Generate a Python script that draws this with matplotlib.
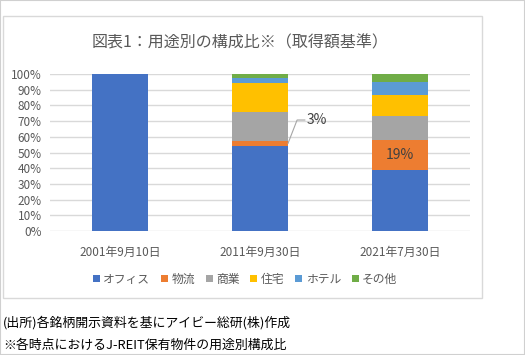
import matplotlib
matplotlib.use("Agg")
import matplotlib.pyplot as plt
from matplotlib.patches import Rectangle, Patch
import numpy as np

plt.rcParams['font.family'] = ['Noto Sans CJK JP', 'DejaVu Sans']

# データ（％）
dates = ['2001年9月10日', '2011年9月30日', '2021年7月30日']
categories = ['オフィス', '物流', '商業', '住宅', 'ホテル', 'その他']
office = [100.0, 54.3, 39.0]
logistics = [0.0, 3.0, 19.0]
retail = [0.0, 18.5, 15.2]
residential = [0.0, 18.5, 13.4]
hotel = [0.0, 3.2, 8.5]
other = [0.0, 2.5, 4.9]
colors = ['#4472C4', '#ED7D31', '#A5A5A5', '#FFC000', '#5B9BD5', '#70AD47']

series = [office, logistics, retail, residential, hotel, other]
gray = '#595959'

fig = plt.figure(figsize=(5.25, 3.55), dpi=100)

# 外枠とチャート枠
fig.patches.append(Rectangle((0, 0), 1, 1, transform=fig.transFigure,
                             fill=False, edgecolor='#d0d0d0', lw=1.5))
fig.patches.append(Rectangle((3 / 525, 57 / 355), 479 / 525, 282 / 355,
                             transform=fig.transFigure, fill=False,
                             edgecolor='#d9d9d9', lw=1))

ax = fig.add_axes([50 / 525, 124 / 355, 420 / 525, 157 / 355])
x = np.arange(len(dates))
bottom = np.zeros(len(dates))
for vals, c in zip(series, colors):
    ax.bar(x, vals, 0.4, bottom=bottom, color=c, zorder=3)
    bottom += np.array(vals)

ax.set_xlim(-0.5, 2.5)
ax.set_ylim(0, 100)
ax.set_yticks(np.arange(0, 101, 10))
ax.set_yticklabels([f'{v}%' for v in range(0, 101, 10)])
ax.set_xticks(x)
ax.set_xticklabels(dates)
ax.tick_params(length=0, labelsize=8.5, colors=gray, pad=6)
ax.tick_params(axis='x', pad=11)
ax.grid(axis='y', color='#d9d9d9', lw=1, zorder=0)
for s in ax.spines.values():
    s.set_visible(False)

# データラベル
y3 = office[1] + logistics[1] / 2
ax.plot([1.2, 1.265, 1.32], [y3, 70.7, 70.7], color='#a6a6a6', lw=0.8,
        zorder=4, clip_on=False)
ax.text(1.335, 70.7, f'{logistics[1]:.0f}%', fontsize=10, color='#404040',
        va='center', ha='left')
ax.text(2, office[2] + logistics[2] / 2, f'{logistics[2]:.0f}%', fontsize=10,
        color='#404040', va='center', ha='center', zorder=5)

fig.text(240 / 525, 1 - 43 / 355, '図表1：用途別の構成比※（取得額基準）',
         fontsize=11.5, color=gray, ha='center', va='center')

handles = [Patch(facecolor=c, edgecolor='none') for c in colors]
fig.legend(handles, categories, loc='center', bbox_to_anchor=(245 / 525, 1 - 279 / 355),
           ncol=6, frameon=False, fontsize=8.5, labelcolor=gray,
           handlelength=0.6, handleheight=0.6, handletextpad=0.3,
           columnspacing=0.9)

fig.text(3 / 525, 1 - 323 / 355, '(出所)各銘柄開示資料を基にアイビー総研(株)作成',
         fontsize=9.3, color='black', ha='left', va='center')
fig.text(3 / 525, 1 - 345 / 355, '※各時点におけるJ-REIT保有物件の用途別構成比',
         fontsize=9.3, color='black', ha='left', va='center')

fig.savefig('out.png', dpi=100)
